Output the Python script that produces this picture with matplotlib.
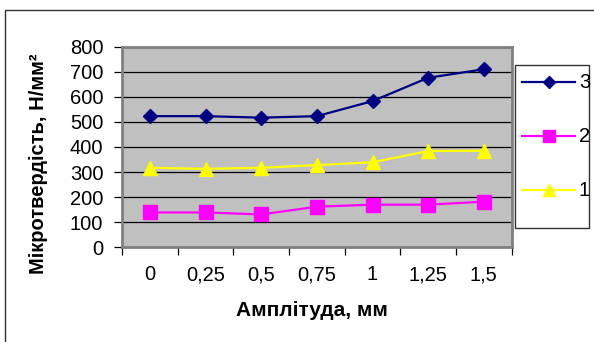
import numpy as np
import matplotlib
matplotlib.use('Agg')
import matplotlib.pyplot as plt
from matplotlib.patches import Rectangle
from matplotlib.lines import Line2D

plt.rcParams['font.family'] = ['Liberation Sans', 'DejaVu Sans']

# Амплітуда, мм
amplitudes = ['0', '0,25', '0,5', '0,75', '1', '1,25', '1,5']
# мікротвердість для трьох серій
series3 = [523, 523, 517, 523, 583, 676, 710]
series2 = [139, 139, 131, 162, 170, 170, 182]
series1 = [317, 313, 317, 328, 339, 384, 385]

W, H = 594, 342
fig = plt.figure(figsize=(W / 100, H / 100), dpi=100)
fig.patch.set_facecolor('white')

# outer chart frame
fig.patches.append(Rectangle((5 / W, -0.1), 1.2, (H - 10) / H + 0.1,
                             transform=fig.transFigure, fill=False,
                             edgecolor='#333333', linewidth=1.0))

ax = fig.add_axes([122 / W, (H - 247.3) / H, (511.7 - 122) / W, 200.6 / H])
ax.set_facecolor('#C0C0C0')

x = np.arange(len(amplitudes))
ax.plot(x, series3, color='#000080', lw=1.6, marker='D', ms=7,
        markeredgecolor='#000080', zorder=5)
ax.plot(x, series2, color='#FF00FF', lw=1.6, marker='s', ms=10,
        markeredgecolor='#FF00FF', zorder=5)
ax.plot(x, series1, color='#FFFF00', lw=1.6, marker='^', ms=10,
        markeredgecolor='#FFFF00', zorder=5)

ax.set_xlim(-0.5, len(amplitudes) - 0.5)
ax.set_ylim(0, 800)
ax.set_yticks(np.arange(0, 801, 100))
ax.yaxis.grid(True, color='black', lw=0.9)
ax.set_axisbelow(True)

ax.set_xticks(x)
ax.set_xticklabels(amplitudes)
ax.set_xticks(np.arange(-0.5, len(amplitudes)), minor=True)
ax.tick_params(axis='x', which='major', length=0, pad=13, labelsize=14.5)
ax.tick_params(axis='x', which='minor', length=6, width=0.9, color='black')
ax.tick_params(axis='y', length=6, width=0.9, color='black', pad=7.5,
               labelsize=14.5)

for side in ax.spines:
    ax.spines[side].set_color('#808080')
    ax.spines[side].set_linewidth(2)

fig.text(312 / W, 1 - 310 / H, 'Амплітуда, мм', ha='center', va='center',
         fontsize=15, fontweight='bold')
fig.text(39 / W, 1 - 164 / H, 'Мікротвердість, Н/мм²', ha='center',
         va='center', rotation=90, fontsize=14.5, fontweight='bold')

# legend box
fig.patches.append(Rectangle((515 / W, 1 - 228 / H), 74 / W, 163 / H,
                             transform=fig.transFigure, facecolor='white',
                             edgecolor='#333333', linewidth=1.0))
entries = [('3', '#000080', 'D', 7, 82),
           ('2', '#FF00FF', 's', 10, 136),
           ('1', '#FFFF00', '^', 10, 190)]
for label, col, mk, size, ypix in entries:
    yf = 1 - ypix / H
    fig.lines.append(Line2D([522 / W, 575 / W], [yf, yf],
                            transform=fig.transFigure, color=col, lw=1.6))
    fig.lines.append(Line2D([549 / W], [yf], transform=fig.transFigure,
                            color=col, marker=mk, ms=size * 0.85,
                            markeredgecolor=col))
    fig.text(579 / W, yf, label, ha='left', va='center', fontsize=14.5)

fig.savefig('out.png', dpi=100)
